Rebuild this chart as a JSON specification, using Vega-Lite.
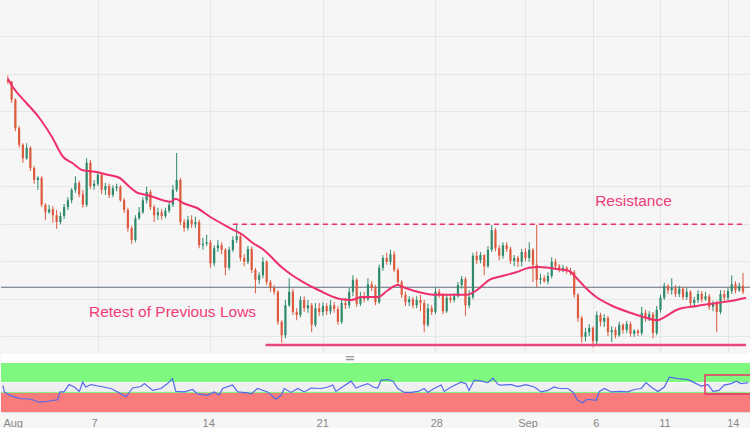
{
"$schema":"https://vega.github.io/schema/vega-lite/v6.json",
"padding":0,
"background":"#f6f6f6",
"spacing":0,
"config":{"view":{"stroke":null},"font":"Liberation Sans","axis":{"minExtent":0}},
"datasets":{
"k":[
{"i":0,"o":0.6716,"h":0.6722,"l":0.6711,"c":0.6714},
{"i":1,"o":0.6714,"h":0.6715,"l":0.6686,"c":0.6690},
{"i":2,"o":0.6690,"h":0.6692,"l":0.6648,"c":0.6652},
{"i":3,"o":0.6652,"h":0.6655,"l":0.6626,"c":0.6630},
{"i":4,"o":0.6630,"h":0.6632,"l":0.6606,"c":0.6612},
{"i":5,"o":0.6612,"h":0.6632,"l":0.6610,"c":0.6626},
{"i":6,"o":0.6626,"h":0.6628,"l":0.6595,"c":0.6599},
{"i":7,"o":0.6599,"h":0.6602,"l":0.6578,"c":0.6583},
{"i":8,"o":0.6583,"h":0.6588,"l":0.6570,"c":0.6586},
{"i":9,"o":0.6586,"h":0.6588,"l":0.6547,"c":0.6550},
{"i":10,"o":0.6550,"h":0.6552,"l":0.6530,"c":0.6540},
{"i":11,"o":0.6540,"h":0.6550,"l":0.6538,"c":0.6544},
{"i":12,"o":0.6544,"h":0.6548,"l":0.6526,"c":0.6536},
{"i":13,"o":0.6536,"h":0.6543,"l":0.6518,"c":0.6527},
{"i":14,"o":0.6527,"h":0.6540,"l":0.6524,"c":0.6535},
{"i":15,"o":0.6535,"h":0.6551,"l":0.6531,"c":0.6547},
{"i":16,"o":0.6547,"h":0.6560,"l":0.6543,"c":0.6556},
{"i":17,"o":0.6556,"h":0.6572,"l":0.6552,"c":0.6570},
{"i":18,"o":0.6570,"h":0.6588,"l":0.6566,"c":0.6579},
{"i":19,"o":0.6579,"h":0.6582,"l":0.6560,"c":0.6564},
{"i":20,"o":0.6564,"h":0.6570,"l":0.6546,"c":0.6550},
{"i":21,"o":0.6550,"h":0.6612,"l":0.6547,"c":0.6606},
{"i":22,"o":0.6606,"h":0.6610,"l":0.6571,"c":0.6575},
{"i":23,"o":0.6575,"h":0.6583,"l":0.6570,"c":0.6578},
{"i":24,"o":0.6578,"h":0.6594,"l":0.6575,"c":0.6590},
{"i":25,"o":0.6590,"h":0.6592,"l":0.6564,"c":0.6570},
{"i":26,"o":0.6570,"h":0.6579,"l":0.6563,"c":0.6575},
{"i":27,"o":0.6575,"h":0.6578,"l":0.6559,"c":0.6563},
{"i":28,"o":0.6563,"h":0.6576,"l":0.6560,"c":0.6572},
{"i":29,"o":0.6572,"h":0.6578,"l":0.6568,"c":0.6574},
{"i":30,"o":0.6574,"h":0.6576,"l":0.6554,"c":0.6556},
{"i":31,"o":0.6556,"h":0.6559,"l":0.6539,"c":0.6543},
{"i":32,"o":0.6543,"h":0.6546,"l":0.6514,"c":0.6519},
{"i":33,"o":0.6519,"h":0.6522,"l":0.6498,"c":0.6503},
{"i":34,"o":0.6503,"h":0.6536,"l":0.6500,"c":0.6532},
{"i":35,"o":0.6532,"h":0.6547,"l":0.6530,"c":0.6540},
{"i":36,"o":0.6540,"h":0.6560,"l":0.6538,"c":0.6556},
{"i":37,"o":0.6556,"h":0.6574,"l":0.6552,"c":0.6567},
{"i":38,"o":0.6567,"h":0.6570,"l":0.6543,"c":0.6547},
{"i":39,"o":0.6547,"h":0.6550,"l":0.6527,"c":0.6536},
{"i":40,"o":0.6536,"h":0.6546,"l":0.6530,"c":0.6540},
{"i":41,"o":0.6540,"h":0.6544,"l":0.6530,"c":0.6535},
{"i":42,"o":0.6535,"h":0.6546,"l":0.6532,"c":0.6542},
{"i":43,"o":0.6542,"h":0.6554,"l":0.6539,"c":0.6550},
{"i":44,"o":0.6550,"h":0.6576,"l":0.6547,"c":0.6570},
{"i":45,"o":0.6570,"h":0.6619,"l":0.6567,"c":0.6583},
{"i":46,"o":0.6583,"h":0.6586,"l":0.6523,"c":0.6527},
{"i":47,"o":0.6527,"h":0.6531,"l":0.6514,"c":0.6519},
{"i":48,"o":0.6519,"h":0.6535,"l":0.6516,"c":0.6530},
{"i":49,"o":0.6530,"h":0.6536,"l":0.6519,"c":0.6524},
{"i":50,"o":0.6524,"h":0.6534,"l":0.6519,"c":0.6527},
{"i":51,"o":0.6527,"h":0.6530,"l":0.6492,"c":0.6496},
{"i":52,"o":0.6496,"h":0.6506,"l":0.6490,"c":0.6498},
{"i":53,"o":0.6498,"h":0.6510,"l":0.6495,"c":0.6500},
{"i":54,"o":0.6500,"h":0.6503,"l":0.6466,"c":0.6472},
{"i":55,"o":0.6472,"h":0.6496,"l":0.6468,"c":0.6492},
{"i":56,"o":0.6492,"h":0.6503,"l":0.6487,"c":0.6496},
{"i":57,"o":0.6496,"h":0.6500,"l":0.6484,"c":0.6490},
{"i":58,"o":0.6490,"h":0.6492,"l":0.6456,"c":0.6466},
{"i":59,"o":0.6466,"h":0.6494,"l":0.6463,"c":0.6490},
{"i":60,"o":0.6490,"h":0.6508,"l":0.6487,"c":0.6503},
{"i":61,"o":0.6503,"h":0.6523,"l":0.6499,"c":0.6508},
{"i":62,"o":0.6508,"h":0.6511,"l":0.6475,"c":0.6479},
{"i":63,"o":0.6479,"h":0.6484,"l":0.6468,"c":0.6474},
{"i":64,"o":0.6474,"h":0.6495,"l":0.6471,"c":0.6491},
{"i":65,"o":0.6491,"h":0.6494,"l":0.6459,"c":0.6463},
{"i":66,"o":0.6463,"h":0.6466,"l":0.6432,"c":0.6450},
{"i":67,"o":0.6450,"h":0.6460,"l":0.6444,"c":0.6456},
{"i":68,"o":0.6456,"h":0.6480,"l":0.6452,"c":0.6474},
{"i":69,"o":0.6474,"h":0.6476,"l":0.6443,"c":0.6447},
{"i":70,"o":0.6447,"h":0.6450,"l":0.6434,"c":0.6439},
{"i":71,"o":0.6439,"h":0.6443,"l":0.6430,"c":0.6434},
{"i":72,"o":0.6434,"h":0.6436,"l":0.6390,"c":0.6394},
{"i":73,"o":0.6394,"h":0.6396,"l":0.6366,"c":0.6376},
{"i":74,"o":0.6376,"h":0.6423,"l":0.6372,"c":0.6416},
{"i":75,"o":0.6416,"h":0.6452,"l":0.6414,"c":0.6434},
{"i":76,"o":0.6434,"h":0.6438,"l":0.6403,"c":0.6407},
{"i":77,"o":0.6407,"h":0.6412,"l":0.6396,"c":0.6403},
{"i":78,"o":0.6403,"h":0.6428,"l":0.6400,"c":0.6423},
{"i":79,"o":0.6423,"h":0.6428,"l":0.6407,"c":0.6412},
{"i":80,"o":0.6412,"h":0.6423,"l":0.6406,"c":0.6416},
{"i":81,"o":0.6416,"h":0.6419,"l":0.6380,"c":0.6390},
{"i":82,"o":0.6390,"h":0.6419,"l":0.6387,"c":0.6412},
{"i":83,"o":0.6412,"h":0.6419,"l":0.6402,"c":0.6407},
{"i":84,"o":0.6407,"h":0.6420,"l":0.6402,"c":0.6415},
{"i":85,"o":0.6415,"h":0.6419,"l":0.6403,"c":0.6408},
{"i":86,"o":0.6408,"h":0.6423,"l":0.6404,"c":0.6416},
{"i":87,"o":0.6416,"h":0.6420,"l":0.6406,"c":0.6411},
{"i":88,"o":0.6411,"h":0.6415,"l":0.6390,"c":0.6394},
{"i":89,"o":0.6394,"h":0.6423,"l":0.6391,"c":0.6419},
{"i":90,"o":0.6419,"h":0.6426,"l":0.6411,"c":0.6416},
{"i":91,"o":0.6416,"h":0.6439,"l":0.6412,"c":0.6434},
{"i":92,"o":0.6434,"h":0.6456,"l":0.6428,"c":0.6450},
{"i":93,"o":0.6450,"h":0.6452,"l":0.6414,"c":0.6418},
{"i":94,"o":0.6418,"h":0.6434,"l":0.6415,"c":0.6428},
{"i":95,"o":0.6428,"h":0.6434,"l":0.6420,"c":0.6424},
{"i":96,"o":0.6424,"h":0.6452,"l":0.6422,"c":0.6444},
{"i":97,"o":0.6444,"h":0.6448,"l":0.6435,"c":0.6439},
{"i":98,"o":0.6439,"h":0.6443,"l":0.6416,"c":0.6420},
{"i":99,"o":0.6420,"h":0.6470,"l":0.6418,"c":0.6466},
{"i":100,"o":0.6466,"h":0.6483,"l":0.6462,"c":0.6479},
{"i":101,"o":0.6479,"h":0.6486,"l":0.6470,"c":0.6474},
{"i":102,"o":0.6474,"h":0.6490,"l":0.6470,"c":0.6484},
{"i":103,"o":0.6484,"h":0.6488,"l":0.6460,"c":0.6463},
{"i":104,"o":0.6463,"h":0.6466,"l":0.6443,"c":0.6447},
{"i":105,"o":0.6447,"h":0.6450,"l":0.6426,"c":0.6430},
{"i":106,"o":0.6430,"h":0.6434,"l":0.6415,"c":0.6420},
{"i":107,"o":0.6420,"h":0.6428,"l":0.6415,"c":0.6424},
{"i":108,"o":0.6424,"h":0.6427,"l":0.6412,"c":0.6416},
{"i":109,"o":0.6416,"h":0.6428,"l":0.6412,"c":0.6423},
{"i":110,"o":0.6423,"h":0.6430,"l":0.6408,"c":0.6419},
{"i":111,"o":0.6419,"h":0.6423,"l":0.6380,"c":0.6390},
{"i":112,"o":0.6390,"h":0.6418,"l":0.6387,"c":0.6412},
{"i":113,"o":0.6412,"h":0.6416,"l":0.6403,"c":0.6407},
{"i":114,"o":0.6407,"h":0.6440,"l":0.6404,"c":0.6434},
{"i":115,"o":0.6434,"h":0.6438,"l":0.6426,"c":0.6430},
{"i":116,"o":0.6430,"h":0.6432,"l":0.6404,"c":0.6408},
{"i":117,"o":0.6408,"h":0.6431,"l":0.6406,"c":0.6426},
{"i":118,"o":0.6426,"h":0.6431,"l":0.6419,"c":0.6423},
{"i":119,"o":0.6423,"h":0.6432,"l":0.6420,"c":0.6428},
{"i":120,"o":0.6428,"h":0.6447,"l":0.6426,"c":0.6443},
{"i":121,"o":0.6443,"h":0.6455,"l":0.6438,"c":0.6451},
{"i":122,"o":0.6451,"h":0.6454,"l":0.6402,"c":0.6416},
{"i":123,"o":0.6416,"h":0.6436,"l":0.6412,"c":0.6427},
{"i":124,"o":0.6427,"h":0.6486,"l":0.6424,"c":0.6482},
{"i":125,"o":0.6482,"h":0.6488,"l":0.6471,"c":0.6476},
{"i":126,"o":0.6476,"h":0.6487,"l":0.6472,"c":0.6483},
{"i":127,"o":0.6483,"h":0.6484,"l":0.6456,"c":0.6468},
{"i":128,"o":0.6468,"h":0.6495,"l":0.6466,"c":0.6490},
{"i":129,"o":0.6490,"h":0.6523,"l":0.6487,"c":0.6516},
{"i":130,"o":0.6516,"h":0.6519,"l":0.6488,"c":0.6492},
{"i":131,"o":0.6492,"h":0.6496,"l":0.6476,"c":0.6482},
{"i":132,"o":0.6482,"h":0.6500,"l":0.6478,"c":0.6496},
{"i":133,"o":0.6496,"h":0.6500,"l":0.6487,"c":0.6491},
{"i":134,"o":0.6491,"h":0.6494,"l":0.6471,"c":0.6475},
{"i":135,"o":0.6475,"h":0.6483,"l":0.6468,"c":0.6479},
{"i":136,"o":0.6479,"h":0.6482,"l":0.6467,"c":0.6474},
{"i":137,"o":0.6474,"h":0.6491,"l":0.6468,"c":0.6487},
{"i":138,"o":0.6487,"h":0.6492,"l":0.6475,"c":0.6479},
{"i":139,"o":0.6479,"h":0.6500,"l":0.6474,"c":0.6490},
{"i":140,"o":0.6490,"h":0.6492,"l":0.6447,"c":0.6470},
{"i":141,"o":0.6470,"h":0.6523,"l":0.6440,"c":0.6450},
{"i":142,"o":0.6450,"h":0.6458,"l":0.6444,"c":0.6452},
{"i":143,"o":0.6452,"h":0.6456,"l":0.6446,"c":0.6448},
{"i":144,"o":0.6448,"h":0.6460,"l":0.6444,"c":0.6455},
{"i":145,"o":0.6455,"h":0.6480,"l":0.6452,"c":0.6474},
{"i":146,"o":0.6474,"h":0.6478,"l":0.6464,"c":0.6468},
{"i":147,"o":0.6468,"h":0.6471,"l":0.6460,"c":0.6463},
{"i":148,"o":0.6463,"h":0.6470,"l":0.6460,"c":0.6466},
{"i":149,"o":0.6466,"h":0.6468,"l":0.6458,"c":0.6462},
{"i":150,"o":0.6462,"h":0.6466,"l":0.6456,"c":0.6460},
{"i":151,"o":0.6460,"h":0.6463,"l":0.6426,"c":0.6430},
{"i":152,"o":0.6430,"h":0.6432,"l":0.6394,"c":0.6399},
{"i":153,"o":0.6399,"h":0.6402,"l":0.6366,"c":0.6374},
{"i":154,"o":0.6374,"h":0.6386,"l":0.6368,"c":0.6380},
{"i":155,"o":0.6380,"h":0.6391,"l":0.6375,"c":0.6386},
{"i":156,"o":0.6386,"h":0.6388,"l":0.6360,"c":0.6368},
{"i":157,"o":0.6368,"h":0.6408,"l":0.6364,"c":0.6403},
{"i":158,"o":0.6403,"h":0.6406,"l":0.6388,"c":0.6394},
{"i":159,"o":0.6394,"h":0.6404,"l":0.6387,"c":0.6399},
{"i":160,"o":0.6399,"h":0.6402,"l":0.6375,"c":0.6380},
{"i":161,"o":0.6380,"h":0.6388,"l":0.6367,"c":0.6383},
{"i":162,"o":0.6383,"h":0.6387,"l":0.6372,"c":0.6376},
{"i":163,"o":0.6376,"h":0.6394,"l":0.6374,"c":0.6390},
{"i":164,"o":0.6390,"h":0.6392,"l":0.6378,"c":0.6383},
{"i":165,"o":0.6383,"h":0.6395,"l":0.6379,"c":0.6391},
{"i":166,"o":0.6391,"h":0.6394,"l":0.6374,"c":0.6378},
{"i":167,"o":0.6378,"h":0.6384,"l":0.6374,"c":0.6382},
{"i":168,"o":0.6382,"h":0.6384,"l":0.6375,"c":0.6379},
{"i":169,"o":0.6379,"h":0.6414,"l":0.6376,"c":0.6406},
{"i":170,"o":0.6406,"h":0.6410,"l":0.6394,"c":0.6399},
{"i":171,"o":0.6399,"h":0.6408,"l":0.6395,"c":0.6404},
{"i":172,"o":0.6404,"h":0.6407,"l":0.6372,"c":0.6379},
{"i":173,"o":0.6379,"h":0.6415,"l":0.6376,"c":0.6410},
{"i":174,"o":0.6410,"h":0.6430,"l":0.6406,"c":0.6426},
{"i":175,"o":0.6426,"h":0.6446,"l":0.6423,"c":0.6442},
{"i":176,"o":0.6442,"h":0.6444,"l":0.6431,"c":0.6436},
{"i":177,"o":0.6436,"h":0.6452,"l":0.6430,"c":0.6439},
{"i":178,"o":0.6439,"h":0.6443,"l":0.6427,"c":0.6431},
{"i":179,"o":0.6431,"h":0.6442,"l":0.6427,"c":0.6438},
{"i":180,"o":0.6438,"h":0.6440,"l":0.6423,"c":0.6427},
{"i":181,"o":0.6427,"h":0.6439,"l":0.6423,"c":0.6434},
{"i":182,"o":0.6434,"h":0.6436,"l":0.6415,"c":0.6419},
{"i":183,"o":0.6419,"h":0.6427,"l":0.6414,"c":0.6423},
{"i":184,"o":0.6423,"h":0.6436,"l":0.6419,"c":0.6431},
{"i":185,"o":0.6431,"h":0.6435,"l":0.6420,"c":0.6424},
{"i":186,"o":0.6424,"h":0.6434,"l":0.6422,"c":0.6428},
{"i":187,"o":0.6428,"h":0.6431,"l":0.6410,"c":0.6414},
{"i":188,"o":0.6414,"h":0.6422,"l":0.6408,"c":0.6418},
{"i":189,"o":0.6418,"h":0.6422,"l":0.6380,"c":0.6407},
{"i":190,"o":0.6407,"h":0.6436,"l":0.6404,"c":0.6431},
{"i":191,"o":0.6431,"h":0.6436,"l":0.6422,"c":0.6426},
{"i":192,"o":0.6426,"h":0.6439,"l":0.6423,"c":0.6435},
{"i":193,"o":0.6435,"h":0.6456,"l":0.6431,"c":0.6444},
{"i":194,"o":0.6444,"h":0.6448,"l":0.6432,"c":0.6436},
{"i":195,"o":0.6436,"h":0.6446,"l":0.6434,"c":0.6442},
{"i":196,"o":0.6442,"h":0.6459,"l":0.6431,"c":0.6434}
],
"ma":[
{"i":0,"v":0.6718},{"i":1.3,"v":0.6707},{"i":4.7,"v":0.6687},{"i":8.2,"v":0.6667},{"i":11.8,"v":0.6640},{"i":14.7,"v":0.6614},{"i":17.1,"v":0.6606},{"i":20,"v":0.6596},{"i":23.2,"v":0.6594},{"i":26.6,"v":0.6590},{"i":29.7,"v":0.6586},{"i":32.4,"v":0.6574},{"i":34.5,"v":0.6566},{"i":37.1,"v":0.6563},{"i":38.9,"v":0.6560},{"i":43.4,"v":0.6554},{"i":44.7,"v":0.6558},{"i":46.8,"v":0.6552},{"i":50.3,"v":0.6546},{"i":53.9,"v":0.6534},{"i":59.2,"v":0.6519},{"i":62.6,"v":0.6510},{"i":65.3,"v":0.6499},{"i":67.9,"v":0.6491},{"i":73.2,"v":0.6466},{"i":75.8,"v":0.6456},{"i":78.4,"v":0.6448},{"i":82.9,"v":0.6436},{"i":88.9,"v":0.6424},{"i":91.6,"v":0.6423},{"i":94.2,"v":0.6427},{"i":98.7,"v":0.6427},{"i":101.3,"v":0.6436},{"i":103.9,"v":0.6443},{"i":105.5,"v":0.6440},{"i":109.2,"v":0.6434},{"i":113.4,"v":0.6430},{"i":117.9,"v":0.6430},{"i":122.4,"v":0.6430},{"i":125,"v":0.6436},{"i":128.4,"v":0.6450},{"i":131,"v":0.6454},{"i":135.5,"v":0.6460},{"i":139,"v":0.6466},{"i":141.6,"v":0.6467},{"i":144.2,"v":0.6466},{"i":146.8,"v":0.6464},{"i":149.5,"v":0.6462},{"i":151.3,"v":0.6454},{"i":153.9,"v":0.6440},{"i":156.6,"v":0.6428},{"i":160.8,"v":0.6416},{"i":166,"v":0.6406},{"i":169.7,"v":0.6400},{"i":173.2,"v":0.6396},{"i":175,"v":0.6400},{"i":178.4,"v":0.6410},{"i":183.7,"v":0.6415},{"i":189,"v":0.6419},{"i":194.2,"v":0.6423},{"i":196.8,"v":0.6426}
],
"osc":[
{"i":0,"v":54},{"i":0.4,"v":41},{"i":2.1,"v":33},{"i":4.7,"v":27},{"i":6.5,"v":27},{"i":8.2,"v":24},{"i":9.5,"v":20},{"i":11.8,"v":22},{"i":14.4,"v":25},{"i":15,"v":41},{"i":16.1,"v":41},{"i":17.4,"v":56},{"i":18.8,"v":51},{"i":20.1,"v":42},{"i":21,"v":61},{"i":21.8,"v":51},{"i":23.2,"v":56},{"i":25.8,"v":52},{"i":28.4,"v":48},{"i":30.2,"v":41},{"i":32.4,"v":31},{"i":34.1,"v":49},{"i":36.3,"v":52},{"i":37.2,"v":58},{"i":39.4,"v":44},{"i":41.6,"v":48},{"i":43.3,"v":58},{"i":44.6,"v":68},{"i":45.5,"v":42},{"i":47.7,"v":41},{"i":49.9,"v":46},{"i":51.2,"v":37},{"i":53.9,"v":34},{"i":55.6,"v":41},{"i":56.9,"v":35},{"i":57.8,"v":48},{"i":60.4,"v":55},{"i":61.8,"v":41},{"i":64.4,"v":39},{"i":65.3,"v":37},{"i":67,"v":48},{"i":69.6,"v":41},{"i":71.8,"v":26},{"i":73.2,"v":34},{"i":74,"v":48},{"i":75.8,"v":40},{"i":77.6,"v":48},{"i":79.3,"v":41},{"i":81,"v":49},{"i":83.7,"v":48},{"i":85.5,"v":51},{"i":86.8,"v":55},{"i":87.6,"v":42},{"i":89.5,"v":52},{"i":91.6,"v":63},{"i":92.9,"v":49},{"i":94.2,"v":53},{"i":96,"v":58},{"i":97.4,"v":51},{"i":98.6,"v":49},{"i":99.5,"v":65},{"i":101.3,"v":66},{"i":102.6,"v":63},{"i":103.9,"v":48},{"i":105.6,"v":40},{"i":107.4,"v":40},{"i":109.2,"v":42},{"i":110.8,"v":48},{"i":111.8,"v":40},{"i":113.4,"v":48},{"i":115.3,"v":55},{"i":116.1,"v":42},{"i":117.9,"v":51},{"i":120.5,"v":61},{"i":121.8,"v":58},{"i":122.6,"v":44},{"i":124,"v":65},{"i":125.8,"v":63},{"i":127.6,"v":60},{"i":128.9,"v":69},{"i":130.3,"v":56},{"i":131,"v":55},{"i":133.7,"v":56},{"i":135.5,"v":52},{"i":137.6,"v":56},{"i":139.8,"v":51},{"i":141.6,"v":41},{"i":143.4,"v":44},{"i":145,"v":51},{"i":146.4,"v":48},{"i":148.6,"v":48},{"i":149.9,"v":41},{"i":151.2,"v":24},{"i":152.5,"v":19},{"i":153.8,"v":26},{"i":156,"v":24},{"i":156.9,"v":42},{"i":158.3,"v":48},{"i":160,"v":41},{"i":162.2,"v":42},{"i":164.4,"v":41},{"i":166.1,"v":46},{"i":167.9,"v":48},{"i":169.2,"v":60},{"i":170.5,"v":51},{"i":172.3,"v":42},{"i":174,"v":51},{"i":175.3,"v":71},{"i":177.6,"v":68},{"i":180.3,"v":66},{"i":181.6,"v":61},{"i":183.7,"v":53},{"i":185.5,"v":56},{"i":186.8,"v":42},{"i":188.4,"v":44},{"i":189.7,"v":55},{"i":191.6,"v":58},{"i":192.9,"v":63},{"i":194.2,"v":58},{"i":196.1,"v":60}
]
},
"vconcat":[
{
"width":750,"height":352,
"view":{"fill":"#f6f6f6","stroke":null},
"layer":[
{"data":{"values":[{"p":0.6440}]},"mark":{"type":"rule","color":"#5f6e7d","strokeWidth":1.2},
 "encoding":{"y":{"field":"p","type":"quantitative","scale":{"domain":[0.63537,0.6823],"nice":false,"zero":false},"axis":{"values":[0.6375,0.64,0.6425,0.645,0.6475,0.65,0.6525,0.655,0.6575,0.66,0.6625,0.665,0.6675,0.67,0.6725,0.675,0.6775,0.68],"grid":true,"gridColor":"#e6e6e6","labels":false,"ticks":false,"domain":false,"title":null,"minExtent":0}}}},
{"data":{"name":"k"},"mark":{"type":"rule","strokeWidth":1},
 "encoding":{"x":{"field":"i","type":"quantitative","scale":{"domain":[-0.5,196.8],"nice":false,"zero":false},"axis":{"values":[24,54,84,114,138,156,174,192],"grid":true,"gridColor":"#e6e6e6","labels":false,"ticks":false,"domain":false,"title":null,"minExtent":0}},
  "y":{"field":"l","type":"quantitative","scale":{"domain":[0.63537,0.6823],"nice":false,"zero":false},"axis":{"values":[0.6375,0.64,0.6425,0.645,0.6475,0.65,0.6525,0.655,0.6575,0.66,0.6625,0.665,0.6675,0.67,0.6725,0.675,0.6775,0.68],"grid":true,"gridColor":"#e6e6e6","labels":false,"ticks":false,"domain":false,"title":null,"minExtent":0}},
  "y2":{"field":"h"},
  "color":{"condition":{"test":"datum.c >= datum.o","value":"#2f8a6c"},"value":"#dd5a3e"}}},
{"data":{"name":"k"},"mark":{"type":"bar","size":2.2},
 "encoding":{"x":{"field":"i","type":"quantitative"},
  "y":{"field":"o","type":"quantitative"},
  "y2":{"field":"c"},
  "color":{"condition":{"test":"datum.c >= datum.o","value":"#2f8a6c"},"value":"#dd5a3e"}}},
{"data":{"name":"ma"},"mark":{"type":"line","color":"#ef2f6b","strokeWidth":2,"interpolate":"monotone"},
 "encoding":{"x":{"field":"i","type":"quantitative"},"y":{"field":"v","type":"quantitative"}}},
{"data":{"values":[{"a":60,"b":196.8,"p":0.6524}]},"mark":{"type":"rule","color":"#ee2d6b","strokeWidth":1.5,"strokeDash":[5,4]},
 "encoding":{"x":{"field":"a","type":"quantitative"},"x2":{"field":"b"},"y":{"field":"p","type":"quantitative"}}},
{"data":{"values":[{"a":68.7,"b":196.8,"p":0.6363}]},"mark":{"type":"rule","color":"#e9487a","strokeWidth":2.5},
 "encoding":{"x":{"field":"a","type":"quantitative"},"x2":{"field":"b"},"y":{"field":"p","type":"quantitative"}}},
{"data":{"values":[{"i":166.8,"p":0.6555,"t":"Resistance"},{"i":43.9,"p":0.6407,"t":"Retest of Previous Lows"}]},
 "mark":{"type":"text","color":"#ee3d78","fontSize":15.5,"font":"Liberation Sans","align":"center","baseline":"middle"},
 "encoding":{"x":{"field":"i","type":"quantitative"},"y":{"field":"p","type":"quantitative"},"text":{"field":"t"}}}
]
},
{
"width":750,"height":58,
"view":{"stroke":null},
"layer":[
{"data":{"values":[{"lo":100,"hi":118.4,"band":"gap"},{"lo":60,"hi":100,"band":"up"},{"lo":40,"hi":60,"band":"mid"},{"lo":0,"hi":40,"band":"down"}]},
 "mark":{"type":"rect"},
 "encoding":{"x":{"datum":-0.5,"type":"quantitative","scale":{"domain":[-0.5,196.8],"nice":false,"zero":false},
   "axis":{"values":[0,24,54,84,114,138,156,174,192],"labelExpr":"datum.value==0?'Aug':datum.value==24?'7':datum.value==54?'14':datum.value==84?'21':datum.value==114?'28':datum.value==138?'Sep':datum.value==156?'6':datum.value==174?'11':'14'","labelAlign":{"condition":{"test":"datum.value == 0","value":"left"},"value":"center"},"grid":false,"ticks":false,"domain":true,"domainColor":"#dcdcdc","labelColor":"#888888","labelFontSize":11,"labelFont":"Liberation Sans","labelPadding":5,"labelFlush":false,"title":null,"minExtent":0}},
  "x2":{"datum":196.8},
  "y":{"field":"lo","type":"quantitative","scale":{"domain":[0,118.4],"nice":false,"zero":false},"axis":null},
  "y2":{"field":"hi"},
  "color":{"field":"band","type":"nominal","scale":{"domain":["gap","up","mid","down"],"range":["#ffffff","#7ff87f","#efefef","#f87c7c"]},"legend":null}}},
{"data":{"values":[{"v":60,"k":"hi"},{"v":40,"k":"lo"}]},"mark":{"type":"rule","strokeWidth":1},
 "encoding":{"y":{"field":"v","type":"quantitative"},"color":{"field":"k","type":"nominal","scale":{"domain":["hi","lo"],"range":["#3d5c3d","#5c3a3a"]},"legend":null}}},
{"data":{"values":[{"i":91.3,"v":109.5}]},"mark":{"type":"text","text":"=","color":"#9a9a9a","fontSize":13,"fontWeight":"bold","font":"DejaVu Sans","baseline":"middle","align":"center"},
 "encoding":{"x":{"field":"i","type":"quantitative"},"y":{"field":"v","type":"quantitative"}}},
{"data":{"name":"osc"},"mark":{"type":"line","color":"#5469ea","strokeWidth":1.2},
 "encoding":{"x":{"field":"i","type":"quantitative"},"y":{"field":"v","type":"quantitative"}}},
{"data":{"values":[{"a":184.7,"b":200,"lo":36.7,"hi":75.5}]},"mark":{"type":"rect","filled":false,"stroke":"#e8336b","strokeWidth":1.5,"clip":true},
 "encoding":{"x":{"field":"a","type":"quantitative"},"x2":{"field":"b"},"y":{"field":"lo","type":"quantitative"},"y2":{"field":"hi"}}}
]
}
]
}
